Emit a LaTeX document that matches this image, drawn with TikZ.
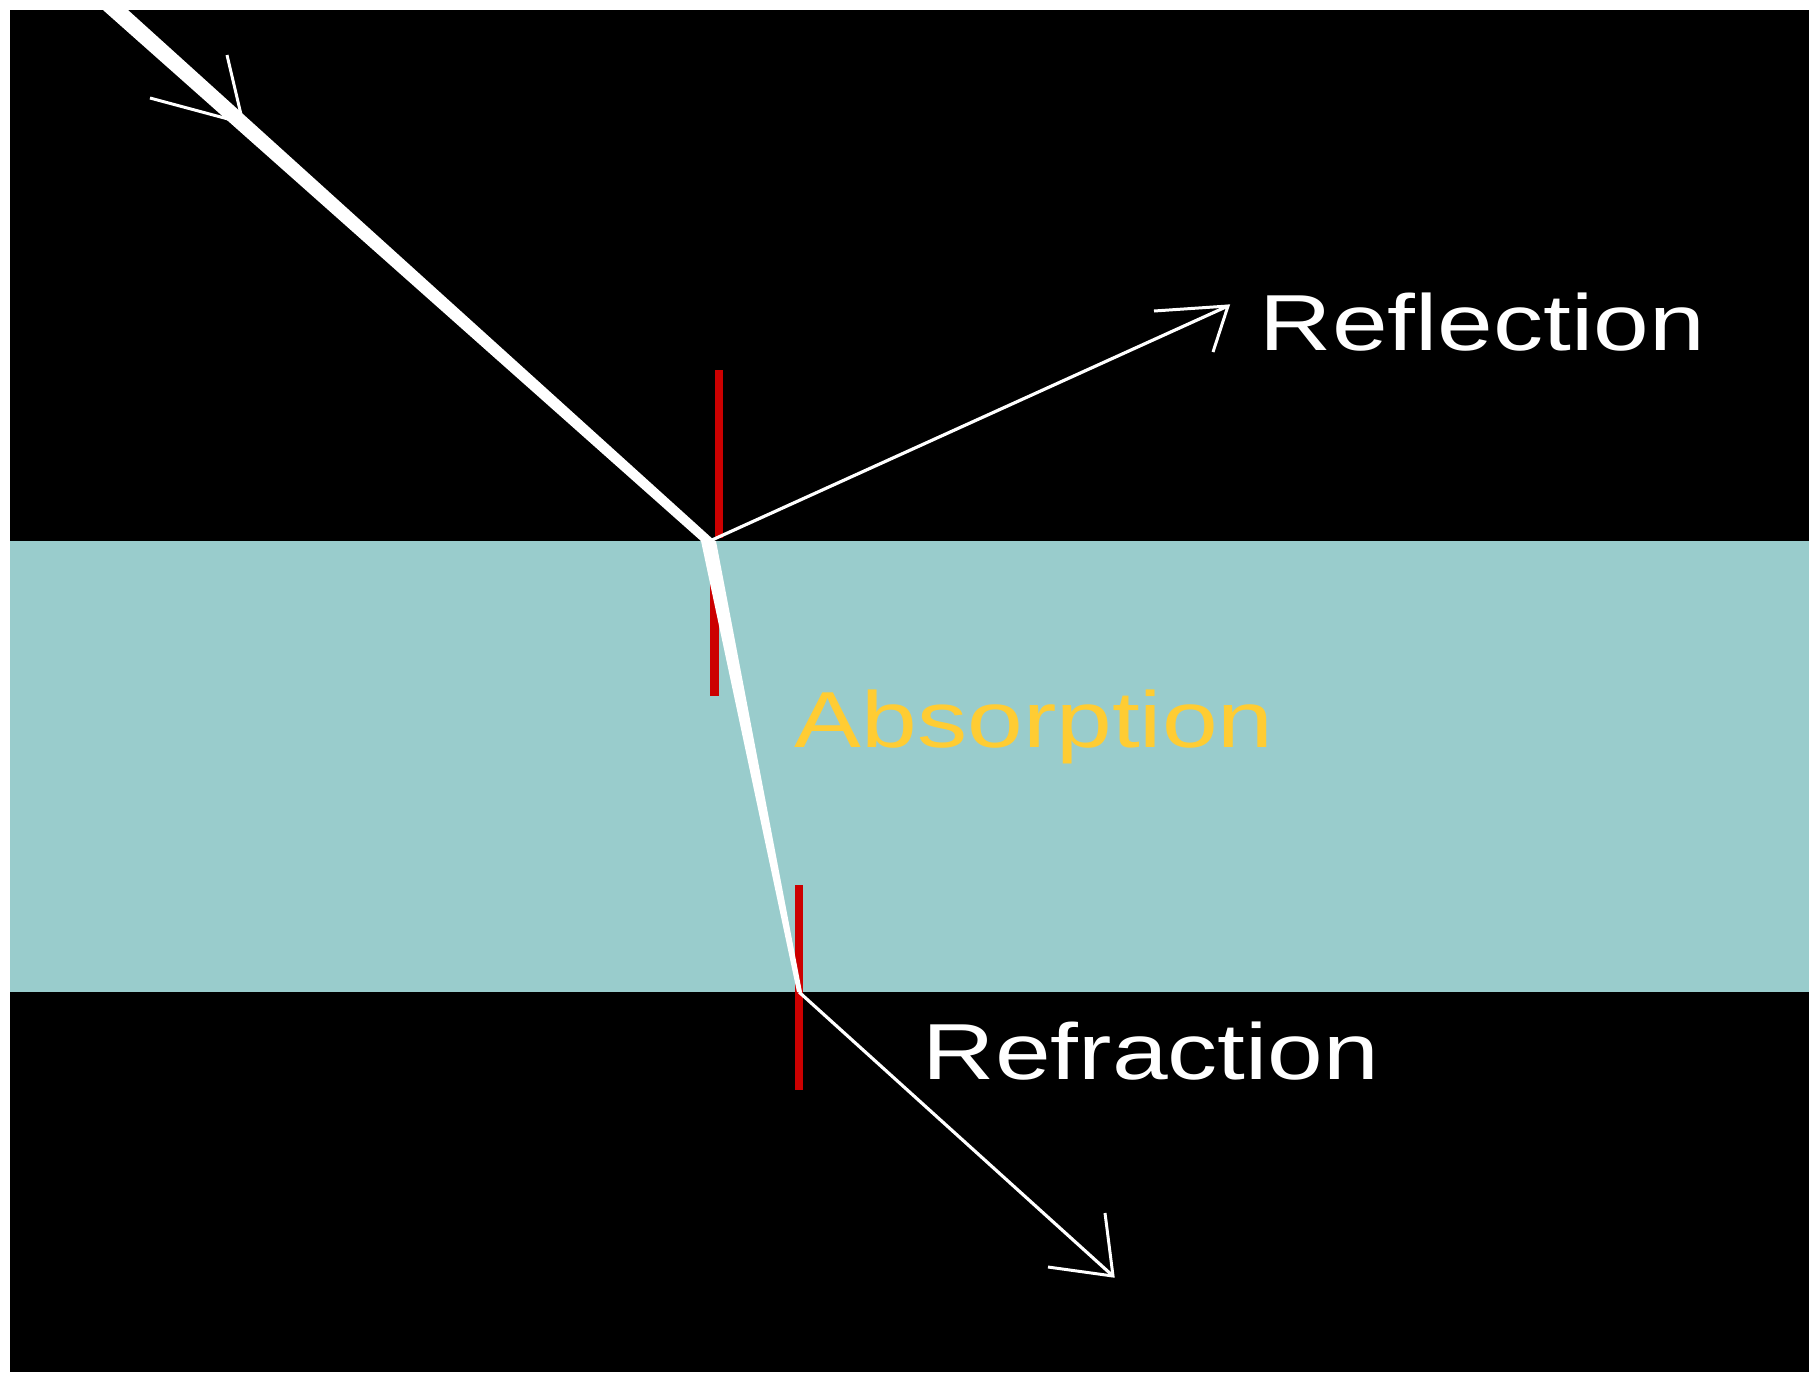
\documentclass[tikz,border=0pt]{standalone}
\usepackage{fontspec}
\usepackage{xcolor}
\usepackage{tikz}
\usetikzlibrary{positioning,calc}
\newfontfamily\labelfont{Liberation Sans}
\definecolor{bandcol}{HTML}{99CCCC}
\definecolor{normcol}{HTML}{CC0000}
\definecolor{abscol}{HTML}{FFCC33}

\begin{document}
\begin{tikzpicture}[x=0.01cm, y=-0.01cm, ray/.style={draw=white, line width=0.9pt}, barb/.style={draw=white, line width=0.85pt}, normal/.style={draw=normcol, line width=2.3pt}, txt/.style={inner sep=0pt, anchor=base west, xscale=1.26, font=\labelfont\fontsize{22.6pt}{27pt}\selectfont}]

\useasboundingbox (0,0) rectangle (1809,1372);
\fill[white] (0,0) rectangle (1809,1372);
\fill[black] (10,10) rectangle (1809,1372);
\fill[bandcol] (10,541) rectangle (1809,992);

\coordinate (hit) at (712,540);
\coordinate (exit) at (799,992);
\coordinate (intip) at (243,123);
\coordinate (refl) at (1228,306);
\coordinate (refr) at (1113,1276);

% normals
\draw[normal] (719,370) -- (719,538);
\draw[normal] (714.5,562) -- (714.5,696);
\draw[normal] (799,885) -- (799,1090);

% incoming beam and the part in the layer
\fill[white] (103,10) -- (128,10) -- (715,541) -- (701,541) -- cycle;
\fill[white] (701,541) -- (716,541) -- (802,992) -- (797,992) -- cycle;
\draw[barb] (150,98) -- (intip) -- (227,55);

\draw[ray] (hit) -- (refl);
\draw[barb] (1154,311) -- (refl) -- (1213,352);
\draw[ray] (exit) -- (refr);
\draw[barb] (1105,1213) -- (refr) -- (1048,1267);

\node[txt, text=white] (reflection) at (1259,350) {Reflection};
\node[txt, text=abscol] (absorption) at (794,747) {Absorption};
\node[txt, text=white] (refraction) at (922,1079) {Refraction};
\end{tikzpicture}
\end{document}
